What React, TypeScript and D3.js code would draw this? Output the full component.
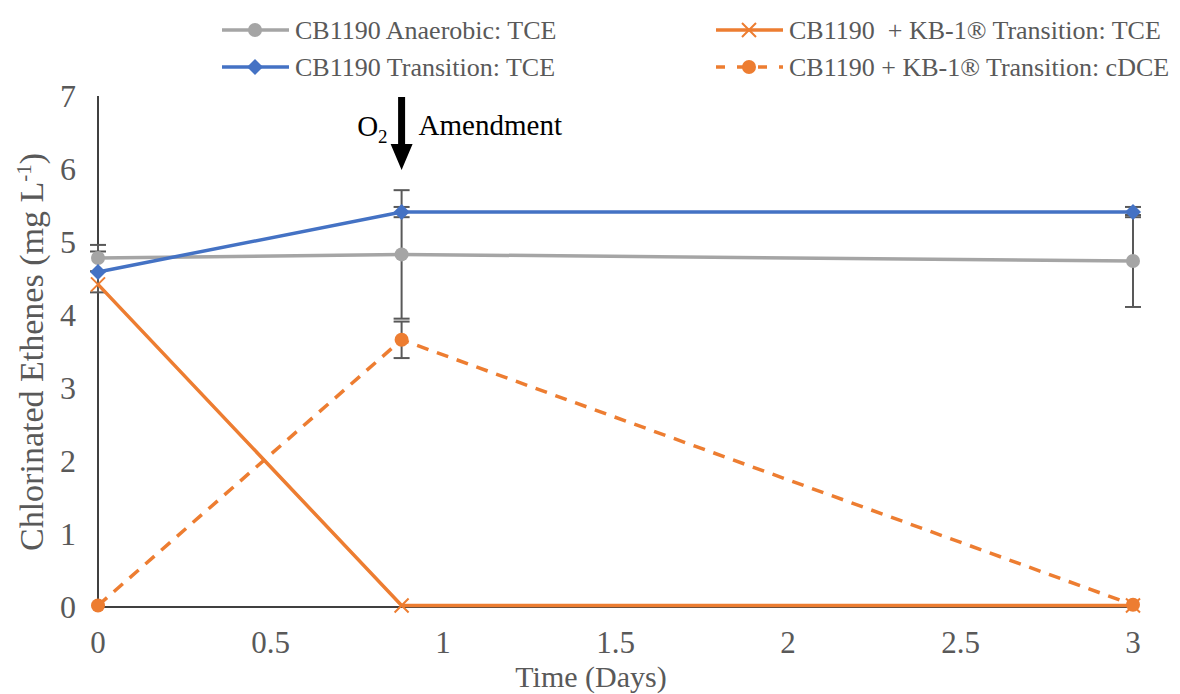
import React from "react";
import * as d3 from "d3";

const days = [0, 0.88, 3];
const anaerobicTCE = [4.78, 4.83, 4.74];
const anaerobicErr = [0.18, 0.88, 0.63];
const transitionTCE = [4.59, 5.41, 5.41];
const transitionErr = [0.28, 0.07, 0.07];
const kbTCE = [4.42, 0.02, 0.02];
const kbTCEErr = [0, 0, 0];
const kbDCE = [0.02, 3.66, 0.03];
const kbDCEErr = [0, 0.25, 0];
const xTicks = [0, 0.5, 1, 1.5, 2, 2.5, 3];
const yTicks = [0, 1, 2, 3, 4, 5, 6, 7];

const W = 1180, H = 694;
const FONT = "'Liberation Serif', 'Times New Roman', serif";
const GRAY = "#A5A5A5", BLUE = "#4472C4", ORANGE = "#ED7D31", TXT = "#595959";

type Series = { name: string; vals: number[]; err: number[]; color: string; marker: string; dash?: string };
const series: Series[] = [
  { name: "CB1190 Anaerobic: TCE", vals: anaerobicTCE, err: anaerobicErr, color: GRAY, marker: "circle" },
  { name: "CB1190 Transition: TCE", vals: transitionTCE, err: transitionErr, color: BLUE, marker: "diamond" },
  { name: "CB1190  + KB-1® Transition: TCE", vals: kbTCE, err: kbTCEErr, color: ORANGE, marker: "x" },
  { name: "CB1190 + KB-1® Transition: cDCE", vals: kbDCE, err: kbDCEErr, color: ORANGE, marker: "circle", dash: "12,9" },
];

function Marker({ type, x, y, color }: { type: string; x: number; y: number; color: string }) {
  if (type === "circle") return <circle cx={x} cy={y} r={7} fill={color} />;
  if (type === "diamond")
    return <path d={`M${x},${y - 8}L${x + 8},${y}L${x},${y + 8}L${x - 8},${y}Z`} fill={color} />;
  return (
    <path d={`M${x - 7},${y - 7}L${x + 7},${y + 7}M${x - 7},${y + 7}L${x + 7},${y - 7}`} stroke={color} strokeWidth={2} />
  );
}

export default function App() {
  const x = d3.scaleLinear().domain([0, 3]).range([98, 1133]);
  const y = d3.scaleLinear().domain([0, 7]).range([607, 96]);
  const line = d3.line<number>().x((_, i) => x(days[i])).y((v) => y(v));

  const legendPos = [
    { lx: 222, ly: 30 },
    { lx: 222, ly: 67 },
    { lx: 716, ly: 30 },
    { lx: 716, ly: 67 },
  ];

  const arrowX = x(0.88);

  return (
    <svg width={W} height={H} style={{ position: "absolute", left: 0, top: 0, background: "#fff" }} fontFamily={FONT}>
      {/* axes */}
      <line x1={x(0)} x2={x(0)} y1={y(7)} y2={y(0)} stroke="#000" strokeWidth={1.5} />
      <line x1={x(0)} x2={x(3)} y1={y(0)} y2={y(0)} stroke="#000" strokeWidth={1.5} />
      {yTicks.map((t) => (
        <text key={t} x={76} y={y(t)} dy="0.35em" textAnchor="end" fontSize={32} fill={TXT}>{t}</text>
      ))}
      {xTicks.map((t) => (
        <text key={t} x={x(t)} y={653} textAnchor="middle" fontSize={31} fill={TXT}>{t}</text>
      ))}
      <text x={591} y={687} textAnchor="middle" fontSize={30} fill={TXT}>Time (Days)</text>
      <text transform={`translate(43,352) rotate(-90)`} textAnchor="middle" fontSize={34} fill={TXT}>
        Chlorinated Ethenes (mg L<tspan dy={-12} fontSize={21}>-1</tspan><tspan dy={12}>)</tspan>
      </text>

      {/* error bars */}
      {series.map((s, si) =>
        s.vals.map((v, i) =>
          s.err[i] > 0 ? (
            <g key={`e${si}-${i}`} stroke="#595959" strokeWidth={2}>
              <line x1={x(days[i])} x2={x(days[i])} y1={y(v + s.err[i])} y2={y(v - s.err[i])} />
              <line x1={x(days[i]) - 8} x2={x(days[i]) + 8} y1={y(v + s.err[i])} y2={y(v + s.err[i])} />
              <line x1={x(days[i]) - 8} x2={x(days[i]) + 8} y1={y(v - s.err[i])} y2={y(v - s.err[i])} />
            </g>
          ) : null
        )
      )}

      {/* lines */}
      {series.map((s, si) => (
        <g key={`s${si}`}>
          <path d={line(s.vals) || ""} fill="none" stroke={s.color} strokeWidth={3.5} strokeDasharray={s.dash} />
          {s.vals.map((v, i) => (
            <Marker key={i} type={s.marker} x={x(days[i])} y={y(v)} color={s.color} />
          ))}
        </g>
      ))}

      {/* annotation */}
      <path
        d={`M${arrowX - 3.5},97L${arrowX + 3.5},97L${arrowX + 3.5},144L${arrowX + 11},144L${arrowX},170L${arrowX - 11},144L${arrowX - 3.5},144Z`}
        fill="#000"
      />
      <text x={arrowX - 14} y={136} textAnchor="end" fontSize={29} fill="#000">
        O<tspan dy={7} fontSize={19}>2</tspan>
      </text>
      <text x={arrowX + 17} y={135} fontSize={29} fill="#000">Amendment</text>

      {/* legend */}
      {series.map((s, si) => {
        const p = legendPos[si];
        return (
          <g key={`l${si}`}>
            <line x1={p.lx} x2={p.lx + 67} y1={p.ly} y2={p.ly} stroke={s.color} strokeWidth={3.5} strokeDasharray={s.dash ? "9,12" : undefined} />
            <Marker type={s.marker} x={p.lx + 33} y={p.ly} color={s.color} />
            <text x={p.lx + 73} y={p.ly} dy="0.35em" fontSize={26} fill={TXT} style={{ whiteSpace: "pre" }}>{s.name}</text>
          </g>
        );
      })}
    </svg>
  );
}
